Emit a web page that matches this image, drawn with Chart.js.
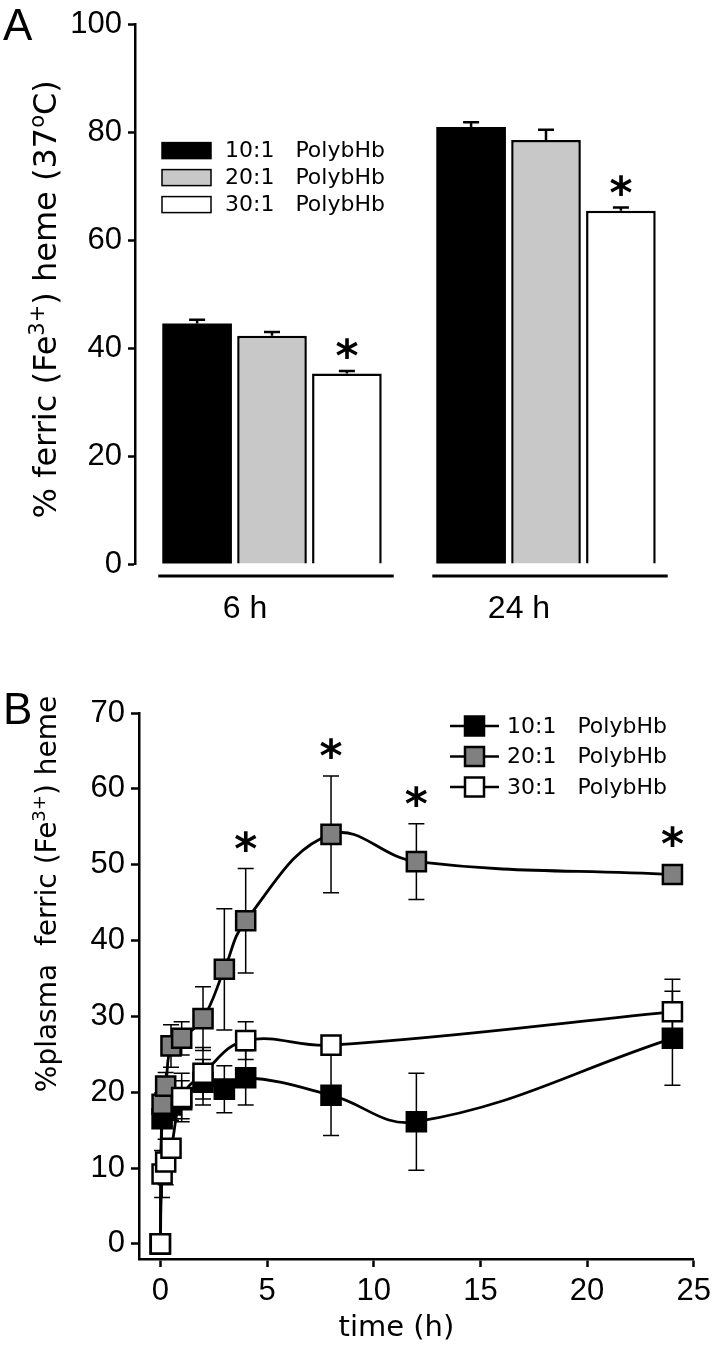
<!DOCTYPE html>
<html><head><meta charset="utf-8">
<script src="https://cdn.jsdelivr.net/npm/chart.js@4.4.1/dist/chart.umd.min.js"></script>
<style>
html,body{margin:0;padding:0;background:#fff;}
#wrap{position:relative;width:717px;height:1352px;overflow:hidden;background:#fff;}
#boxA{position:absolute;left:0;top:0;width:717px;height:650px;}
#boxB{position:absolute;left:0;top:650px;width:717px;height:702px;}
</style></head><body>
<div id="wrap">
<div id="boxA"><canvas id="cA" width="717" height="650"></canvas></div>
<div id="boxB"><canvas id="cB" width="717" height="702"></canvas></div>
</div>
<script>
// ---------- Panel A data ----------
const groupsA = ['6 h', '24 h'];
const seriesNames = ['10:1   PolybHb', '20:1   PolybHb', '30:1   PolybHb'];
const a10 = [44.6, 81.0];
const a20 = [42.3, 78.6];
const a30 = [35.3, 65.5];
const a10err = [0.7, 0.9];
const a20err = [0.7, 1.9];
const a30err = [0.5, 0.6];
const sigA30 = [true, true];
const yTicksA = [0, 20, 40, 60, 80, 100];

// ---------- Panel B data ----------
const t10 = [0, 0.083, 0.25, 0.5, 1, 2, 3, 4, 8, 12, 24];
const b10 = [0, 16.5, 17.8, 18.3, 19.0, 21.3, 20.4, 21.9, 19.6, 16.1, 27.1];
const b10err = [0, 1.2, 1.5, 2.0, 2.5, 3.0, 3.1, 3.6, 5.3, 6.4, 6.2];
const t20 = [0, 0.083, 0.25, 0.5, 1, 2, 3, 4, 8, 12, 24];
const b20 = [0, 18.4, 20.8, 26.1, 27.1, 29.7, 36.2, 42.6, 54.0, 50.4, 48.7];
const b20err = [0, 1.5, 1.8, 2.8, 2.2, 4.2, 8.0, 6.9, 7.7, 5.0, 0];
const t30 = [0, 0.083, 0.25, 0.5, 1, 2, 4, 8, 24];
const b30 = [0, 9.2, 10.8, 12.6, 19.3, 22.5, 26.8, 26.2, 30.6];
const b30err = [0, 3.1, 3.0, 1.2, 3.2, 3.4, 2.5, 1.2, 4.3];
const sigB20 = [4, 8, 12, 24];
const yTicksB = [0, 10, 20, 30, 40, 50, 60, 70];
const xTicksB = [0, 5, 10, 15, 20, 25];

const TICKFONT = 'Liberation Sans';
const TXTFONT = 'DejaVu Sans';

function drawRich(ctx, parts, cx, cy, size, rot) {
  ctx.save();
  ctx.translate(cx, cy);
  ctx.rotate(rot);
  let total = 0;
  const ws = parts.map(p => {
    ctx.font = (p.sup ? Math.round(size * 0.65) : size) + 'px "' + TXTFONT + '"';
    const w = ctx.measureText(p.t).width; total += w; return w;
  });
  let x = -total / 2;
  ctx.fillStyle = '#000';
  ctx.textBaseline = 'alphabetic';
  parts.forEach((p, i) => {
    ctx.font = (p.sup ? Math.round(size * 0.65) : size) + 'px "' + TXTFONT + '"';
    ctx.fillText(p.t, x, p.sup ? size * 0.35 - size * 0.38 : size * 0.35);
    x += ws[i];
  });
  ctx.restore();
}

function drawStar(ctx, x, y) {
  ctx.save();
  ctx.font = 'bold 44px "' + TXTFONT + '"';
  ctx.fillStyle = '#000';
  ctx.textAlign = 'center';
  ctx.textBaseline = 'alphabetic';
  const m = ctx.measureText('*');
  const off = (m.actualBoundingBoxAscent - m.actualBoundingBoxDescent) / 2;
  ctx.fillText('*', x, y + off);
  ctx.restore();
}

// ---------- Panel A ----------
const fillsA = ['#000000', '#c8c8c8', '#ffffff'];
const errsA = [a10err, a20err, a30err];

const pluginA = {
  id: 'pA',
  afterDatasetsDraw(chart) {
    const ctx = chart.ctx, ys = chart.scales.y;
    chart.data.datasets.forEach((ds, di) => {
      const meta = chart.getDatasetMeta(di);
      meta.data.forEach((bar, i) => {
        const v = ds.data[i], e = errsA[di][i];
        const yt = ys.getPixelForValue(v + e);
        ctx.save();
        ctx.strokeStyle = '#000'; ctx.lineWidth = 2.5;
        ctx.beginPath();
        ctx.moveTo(bar.x, bar.y); ctx.lineTo(bar.x, yt);
        ctx.moveTo(bar.x - 8, yt); ctx.lineTo(bar.x + 8, yt);
        ctx.stroke();
        ctx.restore();
        if (di === 2 && sigA30[i]) drawStar(ctx, bar.x, yt - 22);
      });
    });
  },
  afterDraw(chart) {
    const ctx = chart.ctx, ca = chart.chartArea;
    groupsA.forEach((g, i) => {
      const m0 = chart.getDatasetMeta(0).data[i], m2 = chart.getDatasetMeta(2).data[i];
      const l = m0.x - m0.width / 2 - 4, r = m2.x + m2.width / 2 + 12;
      ctx.save();
      ctx.strokeStyle = '#000'; ctx.lineWidth = 3;
      ctx.beginPath(); ctx.moveTo(l, ca.bottom + 12); ctx.lineTo(r, ca.bottom + 12); ctx.stroke();
      ctx.restore();
    });
    seriesNames.forEach((n, i) => {
      const y = ca.top + 126 + i * 27;
      ctx.save();
      ctx.fillStyle = fillsA[i];
      ctx.fillRect(ca.left + 27, y - 8, 49, 16);
      ctx.strokeStyle = '#000'; ctx.lineWidth = 1.5;
      ctx.strokeRect(ca.left + 27, y - 8, 49, 16);
      ctx.fillStyle = '#000';
      ctx.font = '22px "' + TXTFONT + '"';
      ctx.textBaseline = 'middle';
      ctx.fillText(n, ca.left + 90, y + 1);
      ctx.restore();
    });
    ctx.save();
    ctx.fillStyle = '#000'; ctx.font = '44px "' + TICKFONT + '"';
    ctx.textBaseline = 'alphabetic';
    ctx.fillText('A', 3, 40);
    ctx.restore();
    drawRich(ctx, [{t: '% ferric (Fe'}, {t: '3+', sup: true}, {t: ') heme (37'}, {t: 'o', sup: true}, {t: 'C)'}],
      45, (ca.top + ca.bottom) / 2 + 5, 32, -Math.PI / 2);
  }
};

new Chart(document.getElementById('cA'), {
  type: 'bar',
  data: {
    labels: groupsA,
    datasets: [
      {label: seriesNames[0], data: a10, backgroundColor: fillsA[0], borderColor: '#000', borderWidth: 0},
      {label: seriesNames[1], data: a20, backgroundColor: fillsA[1], borderColor: '#000', borderWidth: 2.5},
      {label: seriesNames[2], data: a30, backgroundColor: fillsA[2], borderColor: '#000', borderWidth: 2.5}
    ]
  },
  options: {
    responsive: false, animation: false, devicePixelRatio: 1,
    datasets: {bar: {barPercentage: 0.93, categoryPercentage: 0.82}},
    layout: {padding: {top: 16, right: 34, left: 0, bottom: 0}},
    plugins: {legend: {display: false}, tooltip: {enabled: false}},
    scales: {
      y: {
        min: 0, max: 100,
        afterBuildTicks: s => { s.ticks = yTicksA.map(v => ({value: v})); },
        afterFit: s => { s.width = 135; },
        ticks: {color: '#000', font: {family: TICKFONT, size: 31}, padding: 6},
        grid: {drawOnChartArea: false, drawTicks: true, tickLength: 7, tickWidth: 2.5, color: '#000'},
        border: {display: true, color: '#000', width: 2.5}
      },
      x: {
        afterFit: s => { s.height = 86; },
        ticks: {color: '#000', font: {family: TICKFONT, size: 32}, padding: 26, labelOffset: -27},
        grid: {display: false, drawTicks: false},
        border: {display: false}
      }
    }
  },
  plugins: [pluginA]
});

// ---------- Panel B ----------
const colorsB = ['#000000', '#808080', '#ffffff'];
const timesB = [t10, t20, t30];
const valsB = [b10, b20, b30];
const errsB = [b10err, b20err, b30err];

const pluginB = {
  id: 'pB',
  beforeDatasetsDraw(chart) {
    const ctx = chart.ctx, xs = chart.scales.x, ys = chart.scales.y;
    ctx.save();
    ctx.strokeStyle = '#000'; ctx.lineWidth = 1.5;
    [0, 1, 2].forEach(di => {
      timesB[di].forEach((t, i) => {
        const e = errsB[di][i]; if (!e) return;
        const x = xs.getPixelForValue(t);
        const y1 = ys.getPixelForValue(valsB[di][i] + e), y2 = ys.getPixelForValue(valsB[di][i] - e);
        ctx.beginPath();
        ctx.moveTo(x, y1); ctx.lineTo(x, y2);
        ctx.moveTo(x - 8, y1); ctx.lineTo(x + 8, y1);
        ctx.moveTo(x - 8, y2); ctx.lineTo(x + 8, y2);
        ctx.stroke();
      });
    });
    ctx.restore();
  },
  afterDraw(chart) {
    const ctx = chart.ctx, ca = chart.chartArea, xs = chart.scales.x, ys = chart.scales.y;
    sigB20.forEach(t => {
      const i = t20.indexOf(t);
      const yTop = Math.min(ys.getPixelForValue(b20[i] + b20err[i]), ys.getPixelForValue(b20[i]) - 11);
      drawStar(ctx, xs.getPixelForValue(t), yTop - 27);
    });
    seriesNames.forEach((n, i) => {
      const y = ca.top + 13 + i * 30.5;
      ctx.save();
      ctx.strokeStyle = '#000'; ctx.lineWidth = 2.5;
      ctx.beginPath(); ctx.moveTo(450, y); ctx.lineTo(499, y); ctx.stroke();
      ctx.fillStyle = colorsB[i];
      ctx.fillRect(465, y - 9.5, 19, 19);
      ctx.strokeRect(465, y - 9.5, 19, 19);
      ctx.fillStyle = '#000';
      ctx.font = '22px "' + TXTFONT + '"';
      ctx.textBaseline = 'middle';
      ctx.fillText(n, 507, y + 1);
      ctx.restore();
    });
    ctx.save();
    ctx.fillStyle = '#000'; ctx.font = '44px "' + TICKFONT + '"';
    ctx.textBaseline = 'alphabetic';
    ctx.fillText('B', 3, 74);
    ctx.font = '29px "' + TXTFONT + '"';
    ctx.textAlign = 'center'; ctx.textBaseline = 'middle';
    ctx.fillText('time (h)', (ca.left + ca.right) / 2 - 20, 678);
    ctx.restore();
    drawRich(ctx, [{t: '%plasma  ferric (Fe'}, {t: '3+', sup: true}, {t: ') heme'}], 46, 244, 28, -Math.PI / 2);
  }
};

function mkSet(i, order) {
  return {
    label: seriesNames[i],
    data: timesB[i].map((t, k) => ({x: t, y: valsB[i][k]})),
    borderColor: '#000', borderWidth: 2.8, tension: 0.4,
    pointStyle: 'rect', pointRadius: 13.5, pointBorderWidth: 2.5,
    pointBackgroundColor: colorsB[i], pointBorderColor: '#000',
    clip: false, order: order
  };
}

new Chart(document.getElementById('cB'), {
  type: 'line',
  data: {datasets: [mkSet(0, 3), mkSet(1, 2), mkSet(2, 1)]},
  options: {
    responsive: false, animation: false, devicePixelRatio: 1,
    layout: {padding: {top: 63, right: 21, left: 0, bottom: 0}},
    plugins: {legend: {display: false}, tooltip: {enabled: false}},
    scales: {
      y: {
        type: 'linear', min: -2, max: 70,
        afterBuildTicks: s => { s.ticks = yTicksB.map(v => ({value: v})); },
        afterFit: s => { s.width = 139; },
        ticks: {color: '#000', font: {family: TICKFONT, size: 31}, padding: 6},
        grid: {drawOnChartArea: false, drawTicks: true, tickLength: 8, tickWidth: 2.5, color: '#000'},
        border: {display: true, color: '#000', width: 2.5}
      },
      x: {
        type: 'linear', min: -1, max: 25,
        afterBuildTicks: s => { s.ticks = xTicksB.map(v => ({value: v})); },
        afterFit: s => { s.height = 93; },
        ticks: {color: '#000', font: {family: TICKFONT, size: 31}, padding: 6},
        grid: {drawOnChartArea: false, drawTicks: true, tickLength: 8, tickWidth: 2.5, color: '#000'},
        border: {display: true, color: '#000', width: 2.5}
      }
    }
  },
  plugins: [pluginB]
});
</script>
</body></html>
